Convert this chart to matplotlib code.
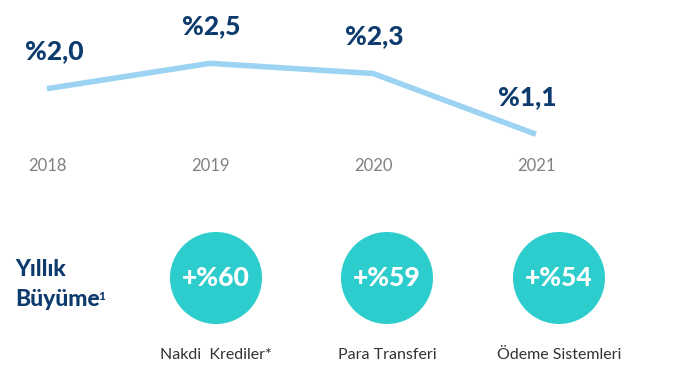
import matplotlib.pyplot as plt
from matplotlib.patches import Circle
from matplotlib.transforms import blended_transform_factory

# data
years = ["2018", "2019", "2020", "2021"]
ratio = [2.0, 2.5, 2.3, 1.1]
ratio_labels = ["%2,0", "%2,5", "%2,3", "%1,1"]

growth_names = ["Nakdi  Krediler*", "Para Transferi", "Ödeme Sistemleri"]
growth_values = [60, 59, 54]

navy = "#0D3B6E"
light_blue = "#9CD3F3"
teal = "#2ECDCD"
W, H = 698, 368

plt.rcParams["font.family"] = ["Lato", "DejaVu Sans"]
fig = plt.figure(figsize=(W / 100, H / 100), dpi=100)

# line axes: x index 0..3 spans px 47..536, y 0..3 spans px 190..38 (from top)
ax = fig.add_axes([47 / W, (H - 190) / H, (536 - 47) / W, 152 / H])
ax.set_xlim(0, 3)
ax.set_ylim(0, 3)
ax.axis("off")
x = list(range(len(years)))
ax.plot(x, ratio, color=light_blue, lw=4, solid_capstyle="butt", clip_on=False)

dx = [5, 1, 1, -6]
for i, (v, lab) in enumerate(zip(ratio, ratio_labels)):
    ax.annotate(lab, (i, v), xytext=(dx[i], 27), textcoords="offset points",
                ha="center", va="center", fontsize=19, fontweight="black",
                color=navy, annotation_clip=False)

tr = blended_transform_factory(ax.transData, fig.transFigure)
for i, y in enumerate(years):
    ax.text(i + 0.005, 1 - 166 / H, y, transform=tr, ha="center", va="center",
            fontsize=12, color="#808080")

# lower panel in pixel coordinates
bx = fig.add_axes([0, 0, 1, 1], zorder=-1)
bx.set_xlim(0, W)
bx.set_ylim(H, 0)
bx.axis("off")

bx.text(15, 270, "Yıllık", ha="left", va="center", fontsize=16.5,
        fontweight="black", color=navy)
bx.text(15, 300, "Büyüme", ha="left", va="center", fontsize=16.5,
        fontweight="black", color=navy)
bx.text(98.5, 297, "1", ha="left", va="center", fontsize=8.5,
        fontweight="black", color=navy)

centers = [216, 387, 559]
for cx, name, val in zip(centers, growth_names, growth_values):
    bx.add_patch(Circle((cx, 278), 46, color=teal, lw=0))
    bx.text(cx, 278, f"+%{val}", ha="center", va="center", fontsize=19,
            fontweight="black", color="white")
    bx.text(cx, 355, name, ha="center", va="center", fontsize=11.5,
            color="#333333")

fig.savefig("out.png", dpi=100, facecolor="white")
